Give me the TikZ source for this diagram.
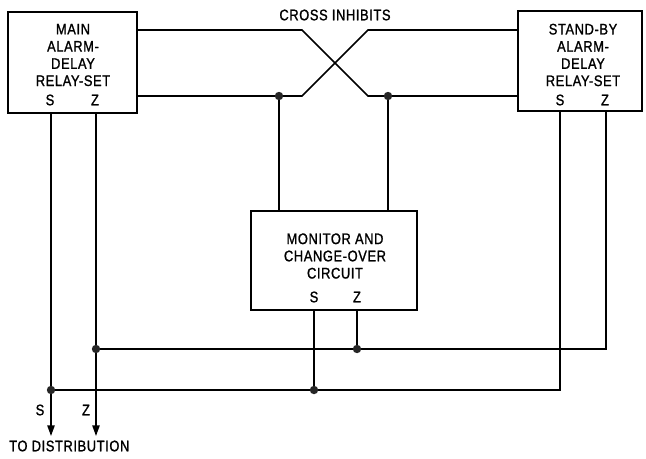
\documentclass[tikz,border=0pt]{standalone}
\usepackage{fontspec}
\setmainfont{Liberation Sans}[FakeBold=1.2, FakeStretch=0.84, LetterSpace=4]
\usetikzlibrary{arrows.meta}
\tikzset{
  blk/.style={draw, line width=1.15pt, inner sep=0pt},
  lbl/.style={font=\fontsize{11.5}{12.9}\selectfont, align=center, inner sep=0pt},
  wire/.style={line width=1.15pt},
  junc/.style={circle, fill=black!85, inner sep=0pt, minimum size=6.3pt},
  arr/.style={wire, -{Triangle[length=8pt,width=5.5pt]}}
}
\begin{document}
\begin{tikzpicture}[x=0.75pt,y=-0.75pt]
\useasboundingbox (0,0) rectangle (646,458);
% boxes
\node[blk, minimum width=96.75pt, minimum height=75.75pt] (main) at (72.5,62.5) {};
\node[blk, minimum width=93pt, minimum height=75pt] (stby) at (580,61) {};
\node[blk, minimum width=124.5pt, minimum height=74.25pt] (mon) at (334,260.5) {};
% box texts
\node[lbl] (maint) at (73,55) {MAIN\\ALARM-\\DELAY\\RELAY-SET};
\node[lbl] (mainS) at (50,100) {S};
\node[lbl] (mainZ) at (95,100) {Z};
\node[lbl] (stbyt) at (583,55) {STAND-BY\\ALARM-\\DELAY\\RELAY-SET};
\node[lbl] (stbyS) at (560,100) {S};
\node[lbl] (stbyZ) at (605,100) {Z};
\node[lbl] (mont) at (335,256) {MONITOR AND\\CHANGE-OVER\\CIRCUIT};
\node[lbl] (monS) at (314,297) {S};
\node[lbl] (monZ) at (357,297) {Z};
\node[lbl] (cross) at (335,15) {CROSS INHIBITS};
% coordinates
\coordinate (mu) at (137,30);
\coordinate (ml) at (137,96);
\coordinate (su) at (518,30);
\coordinate (sl) at (518,96);
\coordinate (b1) at (302,30);
\coordinate (b2) at (302,96);
\coordinate (b3) at (368,96);
\coordinate (b4) at (368,30);
\coordinate (j1) at (279,96);
\coordinate (j2) at (388,96);
\coordinate (j3) at (96,349);
\coordinate (j4) at (357,349);
\coordinate (j5) at (51,390);
\coordinate (j6) at (314,390);
\coordinate (c1) at (606,349);
\coordinate (c2) at (560,390);
\coordinate (tS) at (51,436);
\coordinate (tZ) at (96,436);
% cross inhibits
\draw[wire] (mu) -- (b1) -- (b3) -- (sl);
\draw[wire] (ml) -- (b2) -- (b4) -- (su);
% to monitor
\draw[wire] (j1) -- (j1 |- mon.north);
\draw[wire] (j2) -- (j2 |- mon.north);
% monitor outputs
\draw[wire] (j4 |- mon.south) -- (j4);
\draw[wire] (j6 |- mon.south) -- (j6);
% buses
\draw[wire] (j3) -- (c1) -- (c1 |- stby.south);
\draw[wire] (j5) -- (c2) -- (c2 |- stby.south);
% outputs to distribution
\draw[arr] (j5 |- main.south) -- (tS);
\draw[arr] (j3 |- main.south) -- (tZ);
% junctions
\foreach \j in {j1,j2,j3,j4,j5,j6} \node[junc] at (\j) {};
% bottom labels
\node[lbl] (oS) at (40,410) {S};
\node[lbl] (oZ) at (86,410) {Z};
\node[lbl, anchor=west] (dist) at (9,446) {TO DISTRIBUTION};
\end{tikzpicture}
\end{document}
